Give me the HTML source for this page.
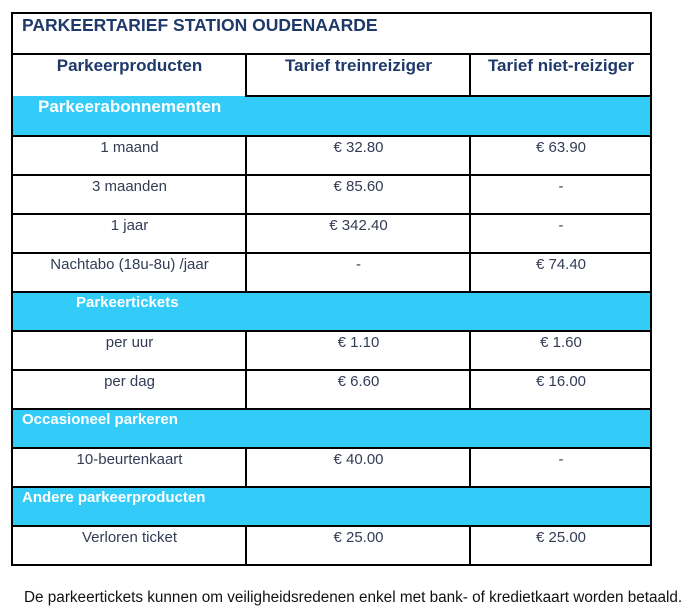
<!DOCTYPE html>
<html><head><meta charset="utf-8"><style>
body{margin:0;width:691px;height:613px;background:#fff;position:relative;font-family:"Liberation Sans",Arial,sans-serif;overflow:hidden}
.a{position:absolute}
.h{background:#000;height:2px}
.v{background:#000;width:2px}
.b{background:#33ccf9}
.t{position:absolute;font-size:15px;color:#333c55;text-align:center;white-space:nowrap}
.s{position:absolute;font-size:17px;font-weight:bold;color:#fff;white-space:nowrap}
.hd{position:absolute;font-size:17px;font-weight:bold;color:#1f3a6a;text-align:center;white-space:nowrap}
</style></head><body>
<div class="a b" style="left:12px;top:96px;width:639px;height:40px"></div>
<div class="a b" style="left:12px;top:292px;width:639px;height:39px"></div>
<div class="a b" style="left:12px;top:409px;width:639px;height:39px"></div>
<div class="a b" style="left:12px;top:487px;width:639px;height:39px"></div>
<div class="a h" style="left:11px;top:12px;width:641px"></div>
<div class="a h" style="left:11px;top:564px;width:641px"></div>
<div class="a v" style="left:11px;top:12px;height:554px"></div>
<div class="a v" style="left:650px;top:12px;height:554px"></div>
<div class="a h" style="left:11px;top:53px;width:641px"></div>
<div class="a h" style="left:245px;top:95px;width:407px"></div>
<div class="a h" style="left:11px;top:135px;width:641px"></div>
<div class="a h" style="left:11px;top:174px;width:641px"></div>
<div class="a h" style="left:11px;top:213px;width:641px"></div>
<div class="a h" style="left:11px;top:252px;width:641px"></div>
<div class="a h" style="left:11px;top:291px;width:641px"></div>
<div class="a h" style="left:11px;top:330px;width:641px"></div>
<div class="a h" style="left:11px;top:369px;width:641px"></div>
<div class="a h" style="left:11px;top:408px;width:641px"></div>
<div class="a h" style="left:11px;top:447px;width:641px"></div>
<div class="a h" style="left:11px;top:486px;width:641px"></div>
<div class="a h" style="left:11px;top:525px;width:641px"></div>
<div class="a v" style="left:245px;top:53px;height:44px"></div>
<div class="a v" style="left:469px;top:53px;height:44px"></div>
<div class="a v" style="left:245px;top:135px;height:158px"></div>
<div class="a v" style="left:469px;top:135px;height:158px"></div>
<div class="a v" style="left:245px;top:330px;height:80px"></div>
<div class="a v" style="left:469px;top:330px;height:80px"></div>
<div class="a v" style="left:245px;top:447px;height:41px"></div>
<div class="a v" style="left:469px;top:447px;height:41px"></div>
<div class="a v" style="left:245px;top:525px;height:41px"></div>
<div class="a v" style="left:469px;top:525px;height:41px"></div>
<div class="hd" style="left:22px;top:15px;text-align:left;font-size:17.5px">PARKEERTARIEF STATION OUDENAARDE</div>
<div class="hd" style="left:13px;top:56px;width:233px">Parkeerproducten</div>
<div class="hd" style="left:247px;top:56px;width:223px">Tarief treinreiziger</div>
<div class="hd" style="left:471px;top:56px;width:180px">Tarief niet-reiziger</div>
<div class="s" style="left:38px;top:97px">Parkeerabonnementen</div>
<div class="s" style="left:76px;top:294px;font-size:15px">Parkeertickets</div>
<div class="s" style="left:22px;top:411px;font-size:15px">Occasioneel parkeren</div>
<div class="s" style="left:22px;top:489px;font-size:15px">Andere parkeerproducten</div>
<div class="t" style="left:13px;top:139px;width:233px">1 maand</div>
<div class="t" style="left:247px;top:139px;width:223px">€ 32.80</div>
<div class="t" style="left:471px;top:139px;width:180px">€ 63.90</div>
<div class="t" style="left:13px;top:178px;width:233px">3 maanden</div>
<div class="t" style="left:247px;top:178px;width:223px">€ 85.60</div>
<div class="t" style="left:471px;top:178px;width:180px">-</div>
<div class="t" style="left:13px;top:217px;width:233px">1 jaar</div>
<div class="t" style="left:247px;top:217px;width:223px">€ 342.40</div>
<div class="t" style="left:471px;top:217px;width:180px">-</div>
<div class="t" style="left:13px;top:256px;width:233px">Nachtabo (18u-8u) /jaar</div>
<div class="t" style="left:247px;top:256px;width:223px">-</div>
<div class="t" style="left:471px;top:256px;width:180px">€ 74.40</div>
<div class="t" style="left:13px;top:334px;width:233px">per uur</div>
<div class="t" style="left:247px;top:334px;width:223px">€ 1.10</div>
<div class="t" style="left:471px;top:334px;width:180px">€ 1.60</div>
<div class="t" style="left:13px;top:373px;width:233px">per dag</div>
<div class="t" style="left:247px;top:373px;width:223px">€ 6.60</div>
<div class="t" style="left:471px;top:373px;width:180px">€ 16.00</div>
<div class="t" style="left:13px;top:451px;width:233px">10-beurtenkaart</div>
<div class="t" style="left:247px;top:451px;width:223px">€ 40.00</div>
<div class="t" style="left:471px;top:451px;width:180px">-</div>
<div class="t" style="left:13px;top:529px;width:233px">Verloren ticket</div>
<div class="t" style="left:247px;top:529px;width:223px">€ 25.00</div>
<div class="t" style="left:471px;top:529px;width:180px">€ 25.00</div>
<div class="a" style="left:24px;top:589px;font-size:15.3px;color:#111;white-space:nowrap">De parkeertickets kunnen om veiligheidsredenen enkel met bank- of kredietkaart worden betaald.</div>
</body></html>
